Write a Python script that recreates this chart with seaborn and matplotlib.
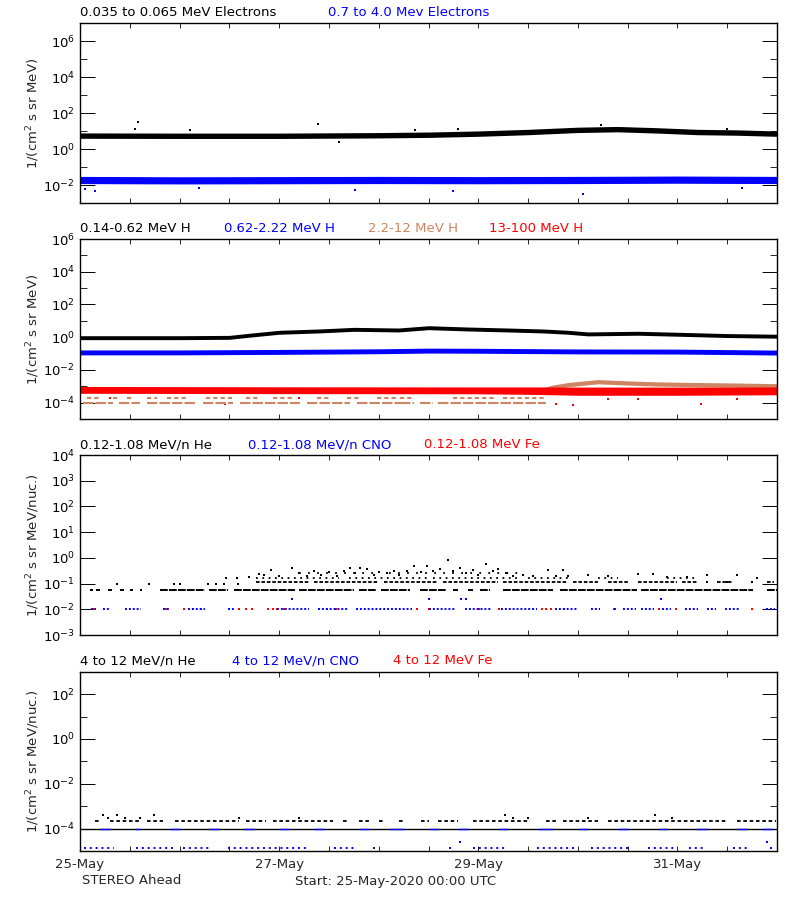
import numpy as np
import matplotlib
matplotlib.use('Agg')
import matplotlib.pyplot as plt
import seaborn as sns
from matplotlib.ticker import FixedLocator, MultipleLocator, NullFormatter, LogFormatterSciNotation

BROWN = '#CD8562'
BLUE = '#0000FF'
RED = '#FF0000'

# time axis: days after 25-May-2020 00:00 UTC
day_ticks = [0, 2, 4, 6]
day_labels = ['25-May', '27-May', '29-May', '31-May']

# ---- panel 1: electrons (log10 of band centre, half width in decades)
e_lo_t = [0, 1, 2, 3, 3.5, 4, 4.5, 5, 5.4, 5.8, 6.2, 6.6, 7]
e_lo_v = [0.75, 0.74, 0.74, 0.77, 0.8, 0.86, 0.95, 1.07, 1.11, 1.04, 0.95, 0.92, 0.86]
e_lo_w = 0.15
e_hi_t = [0, 1, 2, 3, 4, 5, 6, 7]
e_hi_v = [-1.72, -1.74, -1.73, -1.72, -1.73, -1.72, -1.70, -1.72]
e_hi_w = 0.2
e_lo_out_t = [0.55, 0.58, 1.1, 2.39, 2.6, 3.36, 3.8, 5.23, 6.5]
e_lo_out_v = [1.13, 1.53, 1.07, 1.4, 0.37, 1.08, 1.1, 1.34, 1.1]
e_hi_out_t = [0.05, 0.15, 1.2, 2.76, 3.75, 5.05, 6.65]
e_hi_out_v = [-2.2, -2.33, -2.16, -2.3, -2.33, -2.5, -2.15]

# ---- panel 2: protons
h1_t = [0, 1, 1.5, 1.7, 2.0, 2.4, 2.75, 3.2, 3.5, 3.9, 4.3, 4.65, 4.9, 5.1, 5.6, 6.0, 6.5, 7]
h1_v = [-0.03, -0.03, -0.01, 0.12, 0.3, 0.38, 0.48, 0.44, 0.58, 0.5, 0.44, 0.38, 0.3, 0.2, 0.24, 0.18, 0.1, 0.06]
h1_w = 0.12
h2_t = [0, 1, 2, 3, 3.5, 4, 5, 6, 7]
h2_v = [-0.93, -0.93, -0.9, -0.86, -0.82, -0.83, -0.87, -0.88, -0.94]
h2_w = 0.15
h3_pre_1 = [(0.03, 0.33), (0.39, 0.6), (0.67, 1.17), (1.24, 1.54), (1.61, 2.21),
            (2.28, 2.71), (2.78, 3.21), (3.21, 3.35), (3.41, 3.55), (3.6, 4.68)]
h3_pre_2 = [(0.07, 0.2), (0.33, 0.4), (0.47, 0.54), (0.67, 0.77), (0.87, 1.07), (1.27, 1.54),
            (1.67, 1.81), (1.94, 2.14), (2.38, 2.51), (2.68, 2.81), (2.98, 3.18), (3.21, 3.35),
            (3.75, 4.18), (4.25, 4.68)]
h3_t = [4.6, 4.75, 4.9, 5.2, 5.5, 5.8, 6.2, 6.6, 7]
h3_v = [-3.3, -3.05, -2.9, -2.72, -2.8, -2.86, -2.9, -2.93, -2.97]
h3_w = 0.13
h4_t = [0, 2, 4, 4.6, 5, 6, 7]
h4_v = [-3.22, -3.24, -3.25, -3.27, -3.3, -3.3, -3.28]
h4_w = [0.21, 0.21, 0.21, 0.23, 0.25, 0.25, 0.24]
h4_out_t = [0.3, 1.46, 2.2, 3.45, 4.78, 4.95, 5.3, 5.6, 6.24, 6.6]
h4_out_v = [-3.7, -4.1, -3.7, -4.05, -4.1, -4.12, -3.8, -3.75, -4.1, -3.8]

# ---- panel 3: 0.12-1.08 MeV/n heavy ions
he1_lvl = 0.056
he1_runs = [(0.1, 0.13), (0.16, 0.2), (0.28, 0.32), (0.4, 0.44), (0.5, 0.53), (0.6, 0.62),
            (0.8, 1.26), (1.3, 1.49), (1.55, 2.16), (2.2, 2.75), (2.8, 2.97), (3.02, 3.31),
            (3.41, 3.68), (3.75, 3.8), (3.9, 3.95), (4.02, 4.12), (4.25, 4.75), (4.82, 5.59),
            (5.63, 6.76), (6.9, 7.0)]
he2_lvl = 0.12
he2_runs = [(1.77, 2.3), (2.35, 3.0), (3.05, 3.6), (3.65, 4.2), (4.25, 4.9), (4.95, 5.2),
            (5.3, 5.5), (5.6, 6.0), (6.05, 6.2), (6.4, 6.55), (6.9, 6.97)]
he3_lvl = 0.17
he3_runs = [(1.77, 2.6), (2.7, 3.5), (3.55, 4.4), (4.5, 4.9), (5.2, 5.4), (5.9, 6.2)]
he4_lvl_mid = 0.25
he4_runs_mid = [(2.2, 3.0), (3.1, 4.4)]
he_sparse_t = [0.37, 0.69, 0.94, 1.0, 1.29, 1.37, 1.45, 1.59, 6.3, 6.5, 6.75]
he_sparse_v = [0.1, 0.1, 0.1, 0.1, 0.1, 0.1, 0.1, 0.1, 0.12, 0.12, 0.12]
he_up_t = [1.47, 1.58, 1.7, 1.8, 1.85, 1.92, 2.0, 2.13, 2.2, 2.28, 2.35, 2.42, 2.5, 2.58,
           2.65, 2.71, 2.76, 2.81, 2.88, 2.95, 3.0, 3.08, 3.15, 3.2, 3.28, 3.35, 3.42, 3.48,
           3.55, 3.62, 3.7, 3.75, 3.82, 3.88, 3.95, 4.0, 4.08, 4.15, 4.2, 4.28, 4.35, 4.45,
           4.55, 4.7, 4.78, 4.85, 4.9, 5.1, 5.3, 5.6, 5.75, 5.9, 6.1, 6.3, 6.6, 6.8]
he_up_v = [0.17, 0.17, 0.18, 0.23, 0.22, 0.35, 0.2, 0.42, 0.25, 0.2, 0.3, 0.22, 0.27, 0.2,
           0.3, 0.4, 0.25, 0.4, 0.38, 0.22, 0.28, 0.25, 0.3, 0.22, 0.32, 0.5, 0.28, 0.5,
           0.3, 0.38, 0.8, 0.3, 0.42, 0.25, 0.35, 0.22, 0.6, 0.3, 0.38, 0.25, 0.2, 0.22,
           0.2, 0.35, 0.2, 0.33, 0.2, 0.22, 0.2, 0.23, 0.24, 0.18, 0.18, 0.22, 0.21, 0.17]
cno_lvl = 0.0105
cno_runs = [(0.11, 0.16), (0.23, 0.29), (0.45, 0.61), (0.83, 0.9), (1.08, 1.26), (1.49, 1.55),
            (1.98, 2.3), (2.39, 2.7), (2.77, 3.33), (3.51, 3.78), (3.87, 4.14), (4.23, 4.59),
            (4.77, 5.0), (5.13, 5.22), (5.36, 5.4), (5.45, 5.58), (5.63, 5.76), (5.85, 5.94),
            (6.08, 6.21), (6.3, 6.39), (6.48, 6.62), (6.89, 6.98)]
cno_up_t = [2.13, 3.51, 3.83, 3.88, 5.83]
cno_up_v = [0.025, 0.025, 0.025, 0.025, 0.025]
fe_t = [0.14, 0.86, 1.04, 1.13, 1.22, 1.6, 1.67, 1.73, 1.89, 1.94, 1.98, 2.05, 2.48, 2.57,
        3.38, 3.51, 4.01, 4.21, 4.64, 4.68, 4.73, 4.86, 5.36, 5.81, 5.99, 6.75]
fe_v = [0.0105] * len(fe_t)

# ---- panel 4: 4-12 MeV/n heavy ions
he4_base = 1.0e-4
he4_lvl = 2.2e-4
he4_runs = [(0.15, 0.2), (0.3, 0.6), (0.67, 0.83), (0.95, 1.6), (1.67, 1.87), (1.94, 2.54),
            (2.64, 2.7), (2.8, 2.9), (3.0, 3.05), (3.2, 3.25), (3.42, 3.5), (3.6, 3.8),
            (3.95, 4.52), (4.68, 4.78), (4.85, 5.2), (5.3, 6.5), (6.6, 6.99)]
he4_up_t = [0.23, 0.28, 0.37, 0.45, 0.6, 0.74, 1.6, 2.2, 4.27, 4.35, 4.5, 5.1, 5.77, 5.95]
he4_up_v = [3.9e-4, 3e-4, 3.9e-4, 3e-4, 3e-4, 3.9e-4, 3e-4, 3e-4, 3.9e-4, 3e-4, 3e-4, 3e-4, 3.9e-4, 3e-4]
cno4_mid_runs = [(0.2, 0.3), (0.55, 0.6), (0.9, 1.0), (1.3, 1.4), (1.65, 1.75), (2.0, 2.1),
                 (2.35, 2.45), (2.8, 2.9), (3.1, 3.25), (3.5, 3.6), (3.8, 3.9), (4.2, 4.3),
                 (4.6, 4.75), (5.0, 5.1), (5.4, 5.5), (5.8, 5.9), (6.2, 6.3), (6.6, 6.7), (6.85, 6.95)]
cno4_lvl = 1.3e-5
cno4_runs = [(0.04, 0.34), (0.56, 0.95), (1.03, 1.3), (1.49, 2.3), (2.55, 2.75), (2.94, 2.97),
             (3.71, 3.74), (3.95, 4.27), (4.59, 4.96), (5.13, 5.5), (5.7, 6.0), (6.12, 6.29),
             (6.56, 6.71), (6.93, 6.96)]
cno4_up_t = [3.82, 6.9]
cno4_up_v = [2.6e-5, 2.6e-5]

sns.set_theme(style='white')
plt.rcParams['font.family'] = ['DejaVu Sans']
plt.rcParams['mathtext.fontset'] = 'dejavusans'

FS = 9.5
fig = plt.figure(figsize=(8, 9), dpi=100)
fig.patch.set_facecolor('white')


def band(ax, t, v, w, color):
    v = np.asarray(v, dtype=float)
    w = np.broadcast_to(np.asarray(w, dtype=float), v.shape)
    ax.fill_between(t, 10 ** (v - w), 10 ** (v + w), color=color, lw=0)


def runs(ax, level, spans, color, ls='-', lw=1.5):
    a = [s[0] for s in spans]
    b = [s[1] for s in spans]
    ax.hlines([level] * len(spans), a, b, colors=color, linestyles=ls, linewidth=lw)


def dots(ax, t, v, color, s=2.2):
    sns.scatterplot(x=t, y=v, ax=ax, color=color, marker='s', s=s, linewidth=0, legend=False)


def setup(ax, ylim, major, minor, ylabel, bottom=False):
    ax.set_yscale('log')
    ax.set_ylim(ylim)
    ax.set_xlim(0, 7)
    ax.yaxis.set_major_locator(FixedLocator(major))
    ax.yaxis.set_minor_locator(FixedLocator(minor))
    ax.yaxis.set_major_formatter(LogFormatterSciNotation())
    ax.yaxis.set_minor_formatter(NullFormatter())
    ax.xaxis.set_major_locator(FixedLocator(day_ticks))
    ax.xaxis.set_minor_locator(MultipleLocator(0.5))
    if bottom:
        ax.set_xticklabels(day_labels)
    else:
        ax.set_xticklabels([])
    ax.tick_params(axis='y', which='major', direction='in', length=10.8, width=0.7,
                   left=True, right=True, labelsize=FS, pad=3.5, colors='black')
    ax.tick_params(axis='y', which='minor', direction='in', length=5, width=0.7,
                   left=True, right=True)
    ax.tick_params(axis='x', which='both', direction='in', length=3.6, width=0.7,
                   top=True, bottom=True, labelsize=FS, pad=5)
    for sp in ax.spines.values():
        sp.set_color('black')
        sp.set_linewidth(1.0)
    ax.set_xlabel('')
    ax.set_ylabel('')
    ax.text(-0.067, 0.5, ylabel, rotation=90, ha='center', va='center',
            transform=ax.transAxes, fontsize=FS)


def title(parts, ypix):
    for s, c, xpix in parts:
        fig.text(xpix / 800, 1 - ypix / 900, s, color=c, fontsize=FS, ha='left', va='center')


lab_mev = '1/(cm$^2$ s sr MeV)'
lab_nuc = '1/(cm$^2$ s sr MeV/nuc.)'

# panel 1
ax1 = fig.add_axes([0.1, 0.77444, 0.87125, 0.19967])
setup(ax1, (1e-3, 1e7), [1e-2, 1, 1e2, 1e4, 1e6], [1e-1, 1e1, 1e3, 1e5], lab_mev)
band(ax1, e_lo_t, e_lo_v, e_lo_w, 'black')
band(ax1, e_hi_t, e_hi_v, e_hi_w, BLUE)
dots(ax1, e_lo_out_t, 10 ** np.array(e_lo_out_v), 'black')
dots(ax1, e_hi_out_t, 10 ** np.array(e_hi_out_v), BLUE)
title([('0.035 to 0.065 MeV Electrons', 'black', 80),
       ('0.7 to 4.0 Mev Electrons', BLUE, 328)], 13)

# panel 2
ax2 = fig.add_axes([0.1, 0.53444, 0.87125, 0.2])
setup(ax2, (1e-5, 1e6), [1e-4, 1e-2, 1, 1e2, 1e4, 1e6], [1e-3, 1e-1, 1e1, 1e3, 1e5], lab_mev)
band(ax2, h1_t, h1_v, h1_w, 'black')
band(ax2, h2_t, h2_v, h2_w, BLUE)
runs(ax2, 1e-4, h3_pre_1, BROWN, ls=(0, (5, 1)), lw=1.5)
runs(ax2, 2e-4, h3_pre_2, BROWN, ls=(0, (2, 1.5)), lw=1.5)
band(ax2, h3_t, h3_v, h3_w, BROWN)
band(ax2, h4_t, h4_v, h4_w, RED)
dots(ax2, h4_out_t, 10 ** np.array(h4_out_v), RED)
title([('0.14-0.62 MeV H', 'black', 80), ('0.62-2.22 MeV H', BLUE, 224),
       ('2.2-12 MeV H', BROWN, 368), ('13-100 MeV H', RED, 489)], 229)

# panel 3
ax3 = fig.add_axes([0.1, 0.29444, 0.87125, 0.2])
setup(ax3, (1e-3, 1e4), [1e-3, 1e-2, 1e-1, 1, 1e1, 1e2, 1e3, 1e4], [], lab_nuc)
runs(ax3, he1_lvl, he1_runs, 'black', ls=(0, (4, 0.6)), lw=1.4)
runs(ax3, he2_lvl, he2_runs, 'black', ls=(0, (2, 1)), lw=1.3)
runs(ax3, he3_lvl, he3_runs, 'black', ls=(0, (1, 2.5)), lw=1.3)
runs(ax3, he4_lvl_mid, he4_runs_mid, 'black', ls=(0, (1, 4)), lw=1.3)
dots(ax3, he_sparse_t, he_sparse_v, 'black')
dots(ax3, he_up_t, he_up_v, 'black')
runs(ax3, cno_lvl, cno_runs, BLUE, ls=(0, (1, 1)), lw=1.4)
dots(ax3, cno_up_t, cno_up_v, BLUE)
dots(ax3, fe_t, fe_v, RED, s=3)
title([('0.12-1.08 MeV/n He', 'black', 80), ('0.12-1.08 MeV/n CNO', BLUE, 248),
       ('0.12-1.08 MeV Fe', RED, 424)], 445)

# panel 4
ax4 = fig.add_axes([0.1, 0.05444, 0.87125, 0.19922])
setup(ax4, (1e-5, 1e3), [1e-4, 1e-2, 1, 1e2], [1e-3, 1e-1, 1e1], lab_nuc, bottom=True)
ax4.plot([0, 7], [he4_base, he4_base], color='black', lw=1.0)
runs(ax4, he4_base, cno4_mid_runs, BLUE, lw=1.0)
runs(ax4, he4_lvl, he4_runs, 'black', ls=(0, (2, 1.5)), lw=1.3)
dots(ax4, he4_up_t, he4_up_v, 'black')
runs(ax4, cno4_lvl, cno4_runs, BLUE, ls=(0, (1, 2)), lw=1.4)
dots(ax4, cno4_up_t, cno4_up_v, BLUE)
title([('4 to 12 MeV/n He', 'black', 80), ('4 to 12 MeV/n CNO', BLUE, 232),
       ('4 to 12 MeV Fe', RED, 393)], 661)

fig.text(82 / 800, 1 - 881 / 900, 'STEREO Ahead', fontsize=FS, ha='left', va='center')
fig.text(295 / 800, 1 - 881 / 900, 'Start: 25-May-2020 00:00 UTC', fontsize=FS,
         ha='left', va='center')

fig.savefig('out.png', dpi=100, facecolor='white')
